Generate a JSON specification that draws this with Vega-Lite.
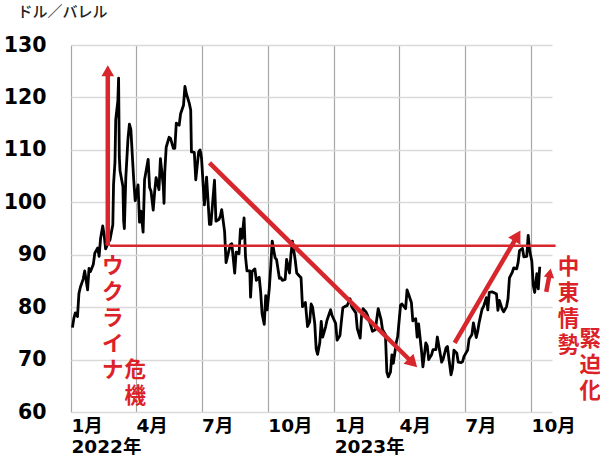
{
  "$schema": "https://vega.github.io/schema/vega-lite/v6.json",
  "width": 481,
  "height": 367,
  "autosize": {"type": "none"},
  "padding": {"left": 71, "top": 45, "right": 48, "bottom": 43},
  "background": "white",
  "config": {"view": {"stroke": null}},
  "datasets": {
    "prices": [
      {"date": "2022-01-03", "value": 76.1}, {"date": "2022-01-05", "value": 77.9}, {"date": "2022-01-07", "value": 78.9},
      {"date": "2022-01-10", "value": 78.2}, {"date": "2022-01-12", "value": 82.6}, {"date": "2022-01-14", "value": 83.8},
      {"date": "2022-01-18", "value": 85.4}, {"date": "2022-01-20", "value": 86.9}, {"date": "2022-01-24", "value": 83.3},
      {"date": "2022-01-26", "value": 87.4}, {"date": "2022-01-28", "value": 86.8}, {"date": "2022-02-01", "value": 88.2},
      {"date": "2022-02-03", "value": 90.3}, {"date": "2022-02-07", "value": 91.3}, {"date": "2022-02-09", "value": 89.7},
      {"date": "2022-02-11", "value": 93.1}, {"date": "2022-02-14", "value": 95.5}, {"date": "2022-02-16", "value": 93.7},
      {"date": "2022-02-18", "value": 91.1}, {"date": "2022-02-22", "value": 92.4}, {"date": "2022-02-24", "value": 92.8},
      {"date": "2022-02-28", "value": 95.7}, {"date": "2022-03-01", "value": 103.4}, {"date": "2022-03-03", "value": 107.7},
      {"date": "2022-03-04", "value": 115.7}, {"date": "2022-03-07", "value": 119.4}, {"date": "2022-03-08", "value": 123.7},
      {"date": "2022-03-09", "value": 108.7}, {"date": "2022-03-10", "value": 106.0}, {"date": "2022-03-14", "value": 103.0},
      {"date": "2022-03-15", "value": 96.4}, {"date": "2022-03-16", "value": 95.0}, {"date": "2022-03-18", "value": 104.7},
      {"date": "2022-03-21", "value": 112.1}, {"date": "2022-03-23", "value": 114.9}, {"date": "2022-03-25", "value": 113.9},
      {"date": "2022-03-29", "value": 104.2}, {"date": "2022-03-31", "value": 100.3}, {"date": "2022-04-04", "value": 103.3},
      {"date": "2022-04-06", "value": 96.2}, {"date": "2022-04-08", "value": 98.3}, {"date": "2022-04-11", "value": 94.3},
      {"date": "2022-04-13", "value": 104.3}, {"date": "2022-04-18", "value": 108.2}, {"date": "2022-04-20", "value": 102.8},
      {"date": "2022-04-22", "value": 102.1}, {"date": "2022-04-25", "value": 98.5}, {"date": "2022-04-27", "value": 102.0},
      {"date": "2022-04-29", "value": 104.7}, {"date": "2022-05-03", "value": 102.4}, {"date": "2022-05-05", "value": 108.3},
      {"date": "2022-05-09", "value": 103.1}, {"date": "2022-05-10", "value": 99.8}, {"date": "2022-05-11", "value": 105.7},
      {"date": "2022-05-13", "value": 110.5}, {"date": "2022-05-17", "value": 112.4}, {"date": "2022-05-19", "value": 112.2},
      {"date": "2022-05-23", "value": 110.3}, {"date": "2022-05-25", "value": 110.3}, {"date": "2022-05-27", "value": 115.1},
      {"date": "2022-05-31", "value": 114.7}, {"date": "2022-06-02", "value": 116.9}, {"date": "2022-06-06", "value": 118.5},
      {"date": "2022-06-08", "value": 122.1}, {"date": "2022-06-10", "value": 120.7}, {"date": "2022-06-14", "value": 118.9},
      {"date": "2022-06-16", "value": 117.6}, {"date": "2022-06-17", "value": 109.6}, {"date": "2022-06-21", "value": 109.5},
      {"date": "2022-06-23", "value": 104.3}, {"date": "2022-06-27", "value": 109.6}, {"date": "2022-06-29", "value": 110.0},
      {"date": "2022-07-01", "value": 108.4}, {"date": "2022-07-05", "value": 99.5}, {"date": "2022-07-07", "value": 102.7},
      {"date": "2022-07-08", "value": 104.8}, {"date": "2022-07-12", "value": 95.8}, {"date": "2022-07-14", "value": 95.8},
      {"date": "2022-07-18", "value": 102.6}, {"date": "2022-07-19", "value": 104.2}, {"date": "2022-07-21", "value": 96.4},
      {"date": "2022-07-25", "value": 96.7}, {"date": "2022-07-27", "value": 97.3}, {"date": "2022-07-29", "value": 98.6},
      {"date": "2022-08-02", "value": 94.4}, {"date": "2022-08-04", "value": 88.5}, {"date": "2022-08-08", "value": 90.8},
      {"date": "2022-08-10", "value": 91.9}, {"date": "2022-08-12", "value": 92.1}, {"date": "2022-08-16", "value": 86.5},
      {"date": "2022-08-18", "value": 90.5}, {"date": "2022-08-22", "value": 90.2}, {"date": "2022-08-24", "value": 94.9},
      {"date": "2022-08-26", "value": 93.1}, {"date": "2022-08-29", "value": 97.0}, {"date": "2022-08-31", "value": 89.6},
      {"date": "2022-09-02", "value": 86.9}, {"date": "2022-09-06", "value": 86.9}, {"date": "2022-09-07", "value": 81.9},
      {"date": "2022-09-09", "value": 86.8}, {"date": "2022-09-13", "value": 87.3}, {"date": "2022-09-15", "value": 85.1},
      {"date": "2022-09-19", "value": 85.7}, {"date": "2022-09-21", "value": 82.9}, {"date": "2022-09-23", "value": 78.7},
      {"date": "2022-09-26", "value": 76.7}, {"date": "2022-09-28", "value": 82.2}, {"date": "2022-09-30", "value": 79.5},
      {"date": "2022-10-03", "value": 83.6}, {"date": "2022-10-05", "value": 87.8}, {"date": "2022-10-07", "value": 92.6},
      {"date": "2022-10-11", "value": 89.4}, {"date": "2022-10-13", "value": 89.1}, {"date": "2022-10-17", "value": 85.5},
      {"date": "2022-10-19", "value": 85.6}, {"date": "2022-10-21", "value": 85.1}, {"date": "2022-10-25", "value": 85.3},
      {"date": "2022-10-27", "value": 89.1}, {"date": "2022-10-31", "value": 86.5}, {"date": "2022-11-02", "value": 90.0},
      {"date": "2022-11-04", "value": 92.6}, {"date": "2022-11-08", "value": 88.9}, {"date": "2022-11-10", "value": 86.5},
      {"date": "2022-11-14", "value": 85.9}, {"date": "2022-11-16", "value": 85.6}, {"date": "2022-11-18", "value": 80.1},
      {"date": "2022-11-22", "value": 80.9}, {"date": "2022-11-25", "value": 76.3}, {"date": "2022-11-28", "value": 77.2},
      {"date": "2022-11-30", "value": 80.6}, {"date": "2022-12-02", "value": 80.0}, {"date": "2022-12-05", "value": 76.9},
      {"date": "2022-12-07", "value": 72.0}, {"date": "2022-12-09", "value": 71.0}, {"date": "2022-12-12", "value": 73.2},
      {"date": "2022-12-14", "value": 77.3}, {"date": "2022-12-16", "value": 74.3}, {"date": "2022-12-20", "value": 76.2},
      {"date": "2022-12-22", "value": 77.5}, {"date": "2022-12-27", "value": 79.5}, {"date": "2022-12-29", "value": 78.4},
      {"date": "2023-01-03", "value": 76.9}, {"date": "2023-01-05", "value": 73.7}, {"date": "2023-01-09", "value": 74.6},
      {"date": "2023-01-11", "value": 77.4}, {"date": "2023-01-13", "value": 79.9}, {"date": "2023-01-17", "value": 80.2},
      {"date": "2023-01-19", "value": 80.3}, {"date": "2023-01-23", "value": 81.6}, {"date": "2023-01-25", "value": 80.2},
      {"date": "2023-01-27", "value": 79.7}, {"date": "2023-01-31", "value": 78.9}, {"date": "2023-02-02", "value": 75.9},
      {"date": "2023-02-06", "value": 74.1}, {"date": "2023-02-08", "value": 78.5}, {"date": "2023-02-10", "value": 79.7},
      {"date": "2023-02-14", "value": 79.1}, {"date": "2023-02-16", "value": 78.5}, {"date": "2023-02-21", "value": 76.4},
      {"date": "2023-02-23", "value": 75.4}, {"date": "2023-02-27", "value": 75.7}, {"date": "2023-03-01", "value": 77.7},
      {"date": "2023-03-03", "value": 79.7}, {"date": "2023-03-07", "value": 77.6}, {"date": "2023-03-09", "value": 75.7},
      {"date": "2023-03-13", "value": 74.8}, {"date": "2023-03-15", "value": 67.6}, {"date": "2023-03-17", "value": 66.7},
      {"date": "2023-03-20", "value": 67.6}, {"date": "2023-03-22", "value": 70.9}, {"date": "2023-03-24", "value": 69.3},
      {"date": "2023-03-28", "value": 73.2}, {"date": "2023-03-30", "value": 74.4}, {"date": "2023-04-03", "value": 80.4},
      {"date": "2023-04-05", "value": 80.6}, {"date": "2023-04-10", "value": 79.7}, {"date": "2023-04-12", "value": 83.3},
      {"date": "2023-04-14", "value": 82.5}, {"date": "2023-04-18", "value": 80.9}, {"date": "2023-04-20", "value": 77.4},
      {"date": "2023-04-24", "value": 77.8}, {"date": "2023-04-26", "value": 74.3}, {"date": "2023-04-28", "value": 76.8},
      {"date": "2023-05-02", "value": 71.7}, {"date": "2023-05-04", "value": 68.6}, {"date": "2023-05-08", "value": 73.2},
      {"date": "2023-05-10", "value": 72.6}, {"date": "2023-05-12", "value": 70.0}, {"date": "2023-05-16", "value": 70.9},
      {"date": "2023-05-18", "value": 71.9}, {"date": "2023-05-22", "value": 71.9}, {"date": "2023-05-24", "value": 74.3},
      {"date": "2023-05-26", "value": 72.7}, {"date": "2023-05-30", "value": 69.5}, {"date": "2023-06-01", "value": 70.1},
      {"date": "2023-06-05", "value": 72.2}, {"date": "2023-06-07", "value": 72.5}, {"date": "2023-06-09", "value": 70.2},
      {"date": "2023-06-12", "value": 67.1}, {"date": "2023-06-14", "value": 68.3}, {"date": "2023-06-16", "value": 71.8},
      {"date": "2023-06-20", "value": 71.2}, {"date": "2023-06-22", "value": 69.5}, {"date": "2023-06-26", "value": 69.4},
      {"date": "2023-06-28", "value": 69.6}, {"date": "2023-06-30", "value": 70.6}, {"date": "2023-07-05", "value": 71.8},
      {"date": "2023-07-07", "value": 73.9}, {"date": "2023-07-11", "value": 74.8}, {"date": "2023-07-13", "value": 77.0},
      {"date": "2023-07-17", "value": 74.2}, {"date": "2023-07-19", "value": 75.4}, {"date": "2023-07-21", "value": 77.1},
      {"date": "2023-07-25", "value": 79.6}, {"date": "2023-07-27", "value": 80.1}, {"date": "2023-07-31", "value": 81.8},
      {"date": "2023-08-02", "value": 79.5}, {"date": "2023-08-04", "value": 82.8}, {"date": "2023-08-08", "value": 82.9},
      {"date": "2023-08-10", "value": 82.8}, {"date": "2023-08-14", "value": 82.5}, {"date": "2023-08-16", "value": 79.4},
      {"date": "2023-08-18", "value": 81.3}, {"date": "2023-08-22", "value": 79.6}, {"date": "2023-08-24", "value": 79.1},
      {"date": "2023-08-28", "value": 80.1}, {"date": "2023-08-30", "value": 81.6}, {"date": "2023-09-01", "value": 85.6},
      {"date": "2023-09-05", "value": 86.7}, {"date": "2023-09-07", "value": 87.5}, {"date": "2023-09-11", "value": 87.3},
      {"date": "2023-09-13", "value": 88.5}, {"date": "2023-09-15", "value": 90.8}, {"date": "2023-09-19", "value": 91.2},
      {"date": "2023-09-21", "value": 89.6}, {"date": "2023-09-25", "value": 89.7}, {"date": "2023-09-27", "value": 93.7},
      {"date": "2023-09-29", "value": 90.8}, {"date": "2023-10-02", "value": 88.8}, {"date": "2023-10-04", "value": 84.2},
      {"date": "2023-10-06", "value": 82.8}, {"date": "2023-10-09", "value": 86.4}, {"date": "2023-10-11", "value": 83.5},
      {"date": "2023-10-13", "value": 87.7}
    ],
    "baseline": [
      {"date": "2022-02-24", "value": 91.7, "date2": "2023-11-04", "value2": 91.7}
    ],
    "shafts": [
      {"date": "2022-02-21", "value": 91.7, "date2": "2022-02-21", "value2": 125.1},
      {"date": "2022-07-12", "value": 107.5, "date2": "2023-04-20", "value2": 69.35},
      {"date": "2023-06-17", "value": 73.2, "date2": "2023-09-12", "value2": 93.6},
      {"date": "2023-10-22", "value": 82.9, "date2": "2023-10-27", "value2": 86.5}
    ],
    "heads": [
      {"arrow": "up", "date": "2022-02-21", "value": 125.1},
      {"arrow": "down", "date": "2023-04-20", "value": 69.35},
      {"arrow": "rise", "date": "2023-09-12", "value": 93.6},
      {"arrow": "small", "date": "2023-10-27", "value": 86.5}
    ],
    "notes": [
      {"date": "2022-02-28", "value": 89.75, "text": "ウ\nク\nラ\nイ\nナ"},
      {"date": "2022-03-31", "value": 70.0, "text": "危\n機"},
      {"date": "2023-11-22", "value": 89.5, "text": "中\n東\n情\n勢"},
      {"date": "2023-12-22", "value": 75.8, "text": "緊\n迫\n化"}
    ]
  },
  "encoding": {
    "x": {
      "field": "date",
      "type": "temporal",
      "scale": {
        "type": "utc",
        "domain": [
          {"year": 2022, "month": 1, "date": 1, "utc": true},
          {"year": 2023, "month": 10, "date": 30, "utc": true}
        ]
      },
      "axis": {
        "title": null,
        "values": [
          {"year": 2022, "month": 1, "date": 1, "utc": true},
          {"year": 2022, "month": 4, "date": 1, "utc": true},
          {"year": 2022, "month": 7, "date": 1, "utc": true},
          {"year": 2022, "month": 10, "date": 1, "utc": true},
          {"year": 2023, "month": 1, "date": 1, "utc": true},
          {"year": 2023, "month": 4, "date": 1, "utc": true},
          {"year": 2023, "month": 7, "date": 1, "utc": true},
          {"year": 2023, "month": 10, "date": 1, "utc": true}
        ],
        "labelExpr": "utcmonth(datum.value) == 0 ? [(utcmonth(datum.value) + 1) + '月', utcyear(datum.value) + '年'] : (utcmonth(datum.value) + 1) + '月'",
        "labelAlign": "left",
        "labelBaseline": "top",
        "labelPadding": 4,
        "labelFont": "DejaVu Sans, Noto Sans CJK JP",
        "labelFontSize": 18.5,
        "labelFontWeight": "bold",
        "labelColor": "#000",
        "labelLineHeight": 21,
        "labelOverlap": false,
        "labelFlush": false,
        "labelBound": false,
        "ticks": false,
        "tickSize": 0,
        "domain": false,
        "grid": true,
        "gridColor": "#a6a6a6",
        "gridWidth": 1.2
      }
    },
    "y": {
      "field": "value",
      "type": "quantitative",
      "scale": {"domain": [60, 130], "nice": false, "zero": false},
      "axis": {
        "title": "ドル／バレル",
        "titleAngle": 0,
        "titleAlign": "left",
        "titleBaseline": "middle",
        "titleX": -54,
        "titleY": -34,
        "titleFont": "Noto Sans CJK JP",
        "titleFontSize": 15,
        "titleFontWeight": 500,
        "titleColor": "#222",
        "values": [60, 70, 80, 90, 100, 110, 120, 130],
        "labelFont": "DejaVu Sans",
        "labelFontSize": 20.5,
        "labelFontWeight": "bold",
        "labelColor": "#000",
        "labelPadding": 25,
        "labelFlush": false,
        "ticks": false,
        "tickSize": 0,
        "domain": false,
        "grid": true,
        "gridColor": "#d9d9d9",
        "gridWidth": 1.5
      }
    }
  },
  "layer": [
    {
      "data": {"name": "prices"},
      "mark": {"type": "line", "color": "#000", "strokeWidth": 2.8, "strokeJoin": "round"}
    },
    {
      "data": {"name": "baseline"},
      "mark": {"type": "rule", "color": "#d7262c", "strokeWidth": 2.5},
      "encoding": {"x2": {"field": "date2"}, "y2": {"field": "value2"}}
    },
    {
      "data": {"name": "shafts"},
      "mark": {"type": "rule", "color": "#d7262c", "strokeWidth": 4.5},
      "encoding": {"x2": {"field": "date2"}, "y2": {"field": "value2"}}
    },
    {
      "data": {"name": "heads"},
      "transform": [{"filter": "datum.arrow == 'up'"}],
      "mark": {"type": "point", "shape": "triangle-up", "filled": true, "opacity": 1, "color": "#d7262c", "size": 160, "angle": 0, "strokeWidth": 0}
    },
    {
      "data": {"name": "heads"},
      "transform": [{"filter": "datum.arrow == 'down'"}],
      "mark": {"type": "point", "shape": "triangle-up", "filled": true, "opacity": 1, "color": "#d7262c", "size": 200, "angle": 135, "strokeWidth": 0}
    },
    {
      "data": {"name": "heads"},
      "transform": [{"filter": "datum.arrow == 'rise'"}],
      "mark": {"type": "point", "shape": "triangle-up", "filled": true, "opacity": 1, "color": "#d7262c", "size": 200, "angle": 30, "strokeWidth": 0}
    },
    {
      "data": {"name": "heads"},
      "transform": [{"filter": "datum.arrow == 'small'"}],
      "mark": {"type": "point", "shape": "triangle-up", "filled": true, "opacity": 1, "color": "#d7262c", "size": 110, "angle": 11, "strokeWidth": 0}
    },
    {
      "data": {"name": "notes"},
      "mark": {
        "type": "text",
        "align": "center",
        "baseline": "top",
        "lineBreak": "\n",
        "lineHeight": 26,
        "font": "Noto Sans CJK JP",
        "fontSize": 21.5,
        "fontWeight": "bold",
        "color": "#dc2229"
      },
      "encoding": {"text": {"field": "text"}}
    }
  ]
}
